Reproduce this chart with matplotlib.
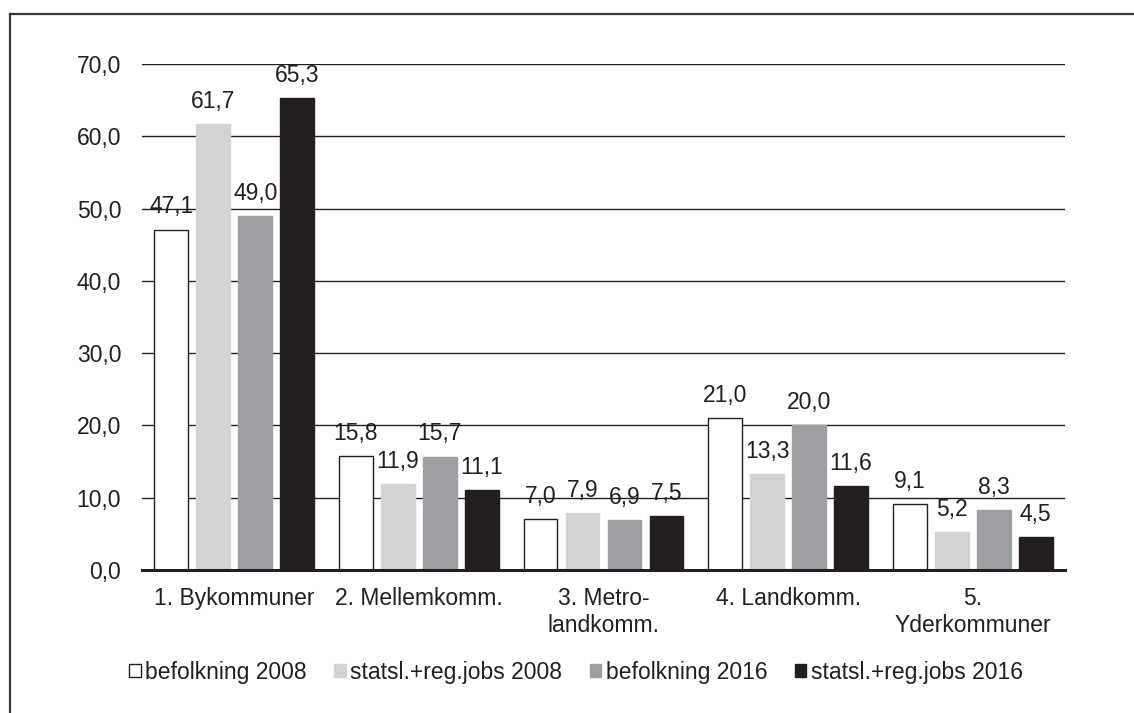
import numpy as np
import matplotlib
matplotlib.use('Agg')
import matplotlib.pyplot as plt
from matplotlib.lines import Line2D

FS = 16.5
plt.rcParams.update({
    'font.family': ['Liberation Sans', 'DejaVu Sans'],
    'font.size': FS,
    'text.color': '#231f20',
    'axes.labelcolor': '#231f20',
    'xtick.color': '#231f20',
    'ytick.color': '#231f20',
})

# data
categories = ['1. Bykommuner', '2. Mellemkomm.', '3. Metro-\nlandkomm.',
              '4. Landkomm.', '5.\nYderkommuner']
series_names = ['befolkning 2008', 'statsl.+reg.jobs 2008',
                'befolkning 2016', 'statsl.+reg.jobs 2016']
bef_2008 = [47.1, 15.8, 7.0, 21.0, 9.1]
jobs_2008 = [61.7, 11.9, 7.9, 13.3, 5.2]
bef_2016 = [49.0, 15.7, 6.9, 20.0, 8.3]
jobs_2016 = [65.3, 11.1, 7.5, 11.6, 4.5]
yticks = [0, 10, 20, 30, 40, 50, 60, 70]

series = [bef_2008, jobs_2008, bef_2016, jobs_2016]
faces = ['white', '#d1d3d4', '#9d9fa2', '#231f20']
edges = ['#231f20', '#d1d3d4', '#9d9fa2', '#231f20']

W, H = 1134, 713
fig = plt.figure(figsize=(W / 100, H / 100), dpi=100)
ax = fig.add_axes([142 / W, 1 - 570 / H, (1065 - 142) / W, (570 - 64) / H])

x = np.arange(len(categories))
pitch = 0.2275
width = 0.184
for i, (vals, fc, ec) in enumerate(zip(series, faces, edges)):
    pos = x + (i - 1.5) * pitch
    bars = ax.bar(pos, vals, width, color=fc, edgecolor=ec, linewidth=1.0,
                  label=series_names[i], zorder=3)
    for b, v in zip(bars, vals):
        ax.annotate(f'{v:.1f}'.replace('.', ','),
                    (b.get_x() + b.get_width() / 2, v),
                    xytext=(0, 8), textcoords='offset points',
                    ha='center', va='bottom', fontsize=FS, zorder=5)

ax.set_xlim(-0.5, len(categories) - 0.5)
ax.set_ylim(0, 70)
ax.set_yticks(yticks)
ax.set_yticklabels([f'{t:.1f}'.replace('.', ',') for t in yticks])
ax.set_xticks(x)
ax.set_xticklabels(categories, linespacing=1.25)
ax.tick_params(axis='y', length=0, pad=15, labelsize=FS)
ax.tick_params(axis='x', length=0, pad=12, labelsize=FS)
ax.grid(axis='y', color='#231f20', linewidth=1.0, zorder=0)
for s in ['top', 'right', 'left']:
    ax.spines[s].set_visible(False)
ax.spines['bottom'].set_linewidth(2.2)
ax.spines['bottom'].set_color('#231f20')
ax.spines['bottom'].set_zorder(4)

fig.legend(loc='center', bbox_to_anchor=(576 / W, 1 - 672 / H), ncol=4,
           frameon=False, fontsize=FS, handlelength=0.5, handleheight=0.5,
           handletextpad=0.2, columnspacing=1.2, borderaxespad=0)

# outer frame (cropped: only left and top edges visible)
fx, fy = 10 / W, 1 - 14 / H
fig.add_artist(Line2D([fx, fx], [-0.05, fy], transform=fig.transFigure,
                      color='#3a3a3a', linewidth=1.6))
fig.add_artist(Line2D([fx, 1.05], [fy, fy], transform=fig.transFigure,
                      color='#3a3a3a', linewidth=1.6))

fig.savefig('out.png', dpi=100)
